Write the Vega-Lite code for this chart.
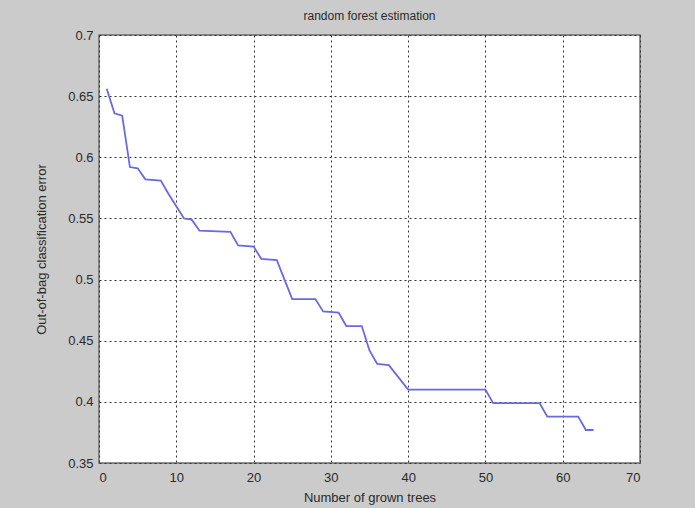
{
  "$schema": "https://vega.github.io/schema/vega-lite/v6.json",
  "width": 541,
  "height": 428,
  "autosize": {"type": "none"},
  "padding": {"left": 99, "top": 35, "right": 55, "bottom": 45},
  "background": "#cbcbcb",
  "view": {"fill": "white", "stroke": "#6e6e6e", "strokeWidth": 1.5},
  "title": {"text": "random forest estimation", "fontSize": 12, "font": "Liberation Sans", "fontWeight": "normal", "color": "#2a2a2a", "offset": 6},
  "data": {"values": [
    {"trees": 1, "error": 0.656},
    {"trees": 2, "error": 0.636},
    {"trees": 3, "error": 0.634},
    {"trees": 4, "error": 0.592},
    {"trees": 5, "error": 0.591},
    {"trees": 6, "error": 0.582},
    {"trees": 8, "error": 0.581},
    {"trees": 9, "error": 0.570},
    {"trees": 10, "error": 0.560},
    {"trees": 11, "error": 0.550},
    {"trees": 12, "error": 0.549},
    {"trees": 13, "error": 0.540},
    {"trees": 17, "error": 0.539},
    {"trees": 18, "error": 0.528},
    {"trees": 20, "error": 0.527},
    {"trees": 21, "error": 0.517},
    {"trees": 23, "error": 0.516},
    {"trees": 24, "error": 0.500},
    {"trees": 25, "error": 0.484},
    {"trees": 28, "error": 0.484},
    {"trees": 29, "error": 0.474},
    {"trees": 31, "error": 0.473},
    {"trees": 32, "error": 0.462},
    {"trees": 34, "error": 0.462},
    {"trees": 35, "error": 0.442},
    {"trees": 36, "error": 0.431},
    {"trees": 37.5, "error": 0.430},
    {"trees": 40, "error": 0.410},
    {"trees": 50, "error": 0.410},
    {"trees": 51, "error": 0.399},
    {"trees": 57, "error": 0.399},
    {"trees": 58, "error": 0.388},
    {"trees": 62, "error": 0.388},
    {"trees": 63, "error": 0.377},
    {"trees": 64, "error": 0.377}
  ]},
  "mark": {"type": "line", "color": "#6a6ae0", "strokeWidth": 1.8},
  "encoding": {
    "x": {
      "field": "trees", "type": "quantitative",
      "scale": {"domain": [0, 70], "nice": false, "zero": false},
      "axis": {
        "values": [0, 10, 20, 30, 40, 50, 60, 70],
        "title": "Number of grown trees",
        "titleFont": "Liberation Sans", "titleFontSize": 13, "titleFontWeight": "normal", "titleColor": "#2a2a2a", "titlePadding": 7,
        "labelFont": "Liberation Sans", "labelFontSize": 13, "labelColor": "#2a2a2a", "labelPadding": 8,
        "ticks": false, "domain": false,
        "grid": true, "gridColor": "#333333", "gridDash": [2, 3], "gridWidth": 1
      }
    },
    "y": {
      "field": "error", "type": "quantitative",
      "scale": {"domain": [0.35, 0.7], "nice": false, "zero": false},
      "axis": {
        "values": [0.35, 0.4, 0.45, 0.5, 0.55, 0.6, 0.65, 0.7],
        "format": ".2~f",
        "title": "Out-of-bag classification error",
        "titleFont": "Liberation Sans", "titleFontSize": 13, "titleFontWeight": "normal", "titleColor": "#2a2a2a", "titlePadding": 19,
        "labelFont": "Liberation Sans", "labelFontSize": 13, "labelColor": "#2a2a2a", "labelPadding": 6,
        "ticks": false, "domain": false,
        "grid": true, "gridColor": "#333333", "gridDash": [2, 3], "gridWidth": 1
      }
    }
  }
}
